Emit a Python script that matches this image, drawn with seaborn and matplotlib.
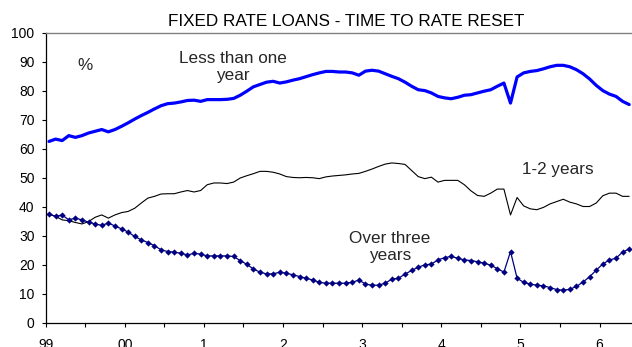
import matplotlib
matplotlib.use("Agg")
import matplotlib.pyplot as plt
import numpy as np
import pandas as pd
import seaborn as sns

# ---- data (monthly, Jan 1999 .. May 2006) ----
less_than_one = [62.5, 63.3, 62.8, 64.5, 63.9, 64.5, 65.4, 66.0, 66.6, 65.8, 66.6, 67.7,
                 68.9, 70.2, 71.4, 72.5, 73.7, 74.8, 75.5, 75.7, 76.1, 76.6,
                 76.7, 76.3, 76.9, 76.9, 76.9, 77.0, 77.3, 78.4, 79.8, 81.3, 82.1, 82.9,
                 83.2, 82.6, 83.0, 83.6, 84.1, 84.8, 85.5, 86.1, 86.6, 86.6, 86.4,
                 86.4, 86.1, 85.3, 86.7, 87.0, 86.7, 85.8, 84.9, 84.1, 82.9, 81.5, 80.3,
                 80.0, 79.2, 78.0, 77.5, 77.2, 77.7, 78.4, 78.6, 79.2, 79.8,
                 80.3, 81.5, 82.6, 75.7, 84.7, 86.1, 86.6, 86.9, 87.5, 88.2, 88.7, 88.7,
                 88.2, 87.2, 85.8, 84.0, 81.8, 80.0, 78.8, 78.0, 76.3, 75.2]
one_to_two = [37.5, 36.7, 35.5, 35.2, 34.6, 34.1, 34.9, 36.4, 37.2, 36.1, 37.2, 38.0,
              38.4, 39.5, 41.3, 43.0, 43.6, 44.4, 44.5, 44.5, 45.1, 45.6,
              45.1, 45.6, 47.6, 48.2, 48.2, 48.0, 48.5, 49.9, 50.7, 51.4, 52.2, 52.2,
              51.9, 51.3, 50.4, 50.1, 50.0, 50.1, 50.0, 49.7, 50.3, 50.6, 50.8,
              51.0, 51.3, 51.5, 52.2, 53.0, 53.9, 54.7, 55.1, 54.9, 54.6, 52.5, 50.4,
              49.7, 50.2, 48.5, 49.1, 49.1, 49.1, 47.6, 45.5, 43.9, 43.6,
              44.7, 46.1, 46.1, 37.2, 43.2, 40.3, 39.3, 39.0, 39.8, 41.0, 41.8, 42.6,
              41.6, 41.0, 40.1, 40.1, 41.3, 43.8, 44.7, 44.7, 43.6, 43.6]
over_three = [37.5, 36.7, 37.2, 35.5, 36.1, 35.5, 34.7, 34.1, 33.6, 34.4, 33.4, 32.4,
              31.3, 29.8, 28.6, 27.7, 26.6, 25.2, 24.6, 24.4, 24.0, 23.4,
              24.0, 23.7, 23.1, 23.1, 23.1, 23.1, 22.9, 21.5, 20.2, 18.6, 17.5, 16.9,
              16.9, 17.5, 17.1, 16.6, 16.0, 15.4, 14.8, 14.0, 13.7, 13.7, 13.7,
              13.7, 14.0, 14.8, 13.4, 13.0, 13.0, 13.7, 15.1, 15.4, 16.8, 18.1, 19.2,
              20.0, 20.3, 21.7, 22.5, 22.9, 22.3, 21.7, 21.5, 21.1, 20.6,
              19.9, 18.7, 17.5, 24.6, 15.4, 14.0, 13.4, 13.0, 12.8, 12.2, 11.5, 11.3,
              11.6, 12.6, 14.1, 15.9, 18.2, 20.3, 21.7, 22.3, 24.4, 25.5]
year_labels = ["99", "00", "1", "2", "3", "4", "5", "6"]
title = "FIXED RATE LOANS - TIME TO RATE RESET"

month = np.arange(len(less_than_one))
df = pd.DataFrame({"month": month, "lt1": less_than_one,
                   "y12": one_to_two, "ov3": over_three})

sns.set_style("ticks")
plt.rcParams["font.family"] = ["Liberation Sans", "DejaVu Sans"]

fig = plt.figure(figsize=(6.32, 3.47), dpi=100)
W, H = 632, 347
left_px, right_px, bot_px, top_px = 45.7, 632, 323, 32.5
ax = fig.add_axes([left_px / W, 1 - bot_px / H, (right_px - left_px) / W, (bot_px - top_px) / H])

sns.lineplot(data=df, x="month", y="lt1", ax=ax, color="#0000FF", linewidth=2.3)
sns.lineplot(data=df, x="month", y="y12", ax=ax, color="black", linewidth=0.8)
sns.lineplot(data=df, x="month", y="ov3", ax=ax, color="#000080", linewidth=0.9,
             marker="D", markersize=3.2, markeredgewidth=0, markerfacecolor="#000080")

px_per_month = 6.593
ax.set_xlim(-0.5, -0.5 + (right_px - left_px) / px_per_month)
ax.set_ylim(0, 100)
ax.set_yticks(range(0, 101, 10))
ticks = [-0.5 + 6 * k for k in range(15)]
labels = []
for k in range(15):
    labels.append(year_labels[k // 2] if k % 2 == 0 else "")
ax.set_xticks(ticks)
ax.set_xticklabels(labels)
ax.set_xlabel("")
ax.set_ylabel("")
ax.tick_params(axis="y", length=3, width=0.8, pad=5, labelsize=10, colors="black")
ax.tick_params(axis="x", length=3, width=0.8, pad=8, labelsize=10, colors="black")

for s in ["left", "bottom"]:
    ax.spines[s].set_color("black")
    ax.spines[s].set_linewidth(0.9)
ax.spines["top"].set_visible(True)
ax.spines["top"].set_color("#808080")
ax.spines["top"].set_linewidth(1.0)
ax.spines["right"].set_visible(False)

fs = 12.3
fig.text(346.5 / W, 1 - 21 / H, title, ha="center", va="center", fontsize=fs, color="black")

def dx(px):
    return -0.5 + (px - left_px) / px_per_month

def dy(py):
    return (bot_px - py) / 2.9

ax.text(dx(85), dy(66), "%", ha="center", va="center", fontsize=fs)
ax.text(dx(233), dy(67.5), "Less than one\nyear", ha="center", va="center",
        fontsize=fs, linespacing=1.15)
ax.text(dx(558), dy(170), "1-2 years", ha="center", va="center", fontsize=fs)
ax.text(dx(390), dy(247.5), "Over three\nyears", ha="center", va="center",
        fontsize=fs, linespacing=1.15)

fig.savefig("out.png", dpi=100)
